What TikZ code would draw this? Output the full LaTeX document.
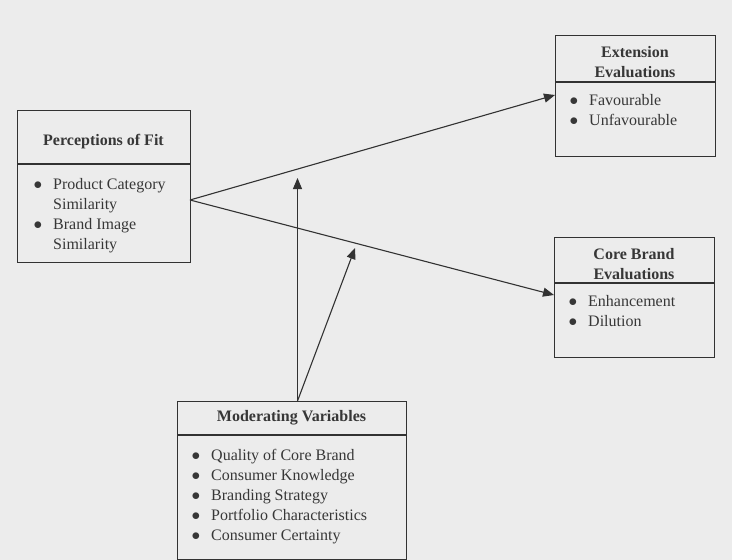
\documentclass[tikz,border=0pt]{standalone}
\usepackage{fontspec}
\setmainfont{Liberation Serif}
\usetikzlibrary{arrows.meta,calc}
\definecolor{bg}{RGB}{236,236,236}
\definecolor{ink}{RGB}{50,50,50}
\definecolor{txt}{RGB}{55,55,55}
\newcommand{\blist}[1]{\begin{tabular}{@{}p{18pt}@{}l@{}}#1\end{tabular}}
\newcommand{\bul}{\hspace*{-1.5pt}$\bullet$}
\begin{document}
\begin{tikzpicture}[x=1pt,y=-1pt,
  box/.style={draw=ink,line width=1.3pt,fill=bg,inner sep=0pt,anchor=north west},
  divider/.style={draw=ink,line width=1.2pt},
  title/.style={text=txt,font=\fontsize{16}{20}\selectfont\bfseries,align=center,inner sep=0pt},
  items/.style={text=txt,font=\fontsize{16}{20}\selectfont,anchor=north west,inner sep=0pt},
  conn/.style={draw=ink,line width=1.1pt,-{Triangle[length=11pt,width=9pt]}}]
\fill[bg] (0,0) rectangle (732,560);
\useasboundingbox (0,0) rectangle (732,560);

% boxes
\node[box,minimum width=173pt,minimum height=152pt] (pof) at (17,110) {};
\node[box,minimum width=160pt,minimum height=121pt] (ext) at (555,35) {};
\node[box,minimum width=160pt,minimum height=120pt] (core) at (554,237) {};
\node[box,minimum width=229pt,minimum height=158pt] (mod) at (177,401) {};

% dividers
\draw[divider] ($(pof.north west)+(0,54)$) -- ($(pof.north east)+(0,54)$);
\draw[divider] ($(ext.north west)+(0,47)$) -- ($(ext.north east)+(0,47)$);
\draw[divider] ($(core.north west)+(0,46)$) -- ($(core.north east)+(0,46)$);
\draw[divider] ($(mod.north west)+(0,34)$) -- ($(mod.north east)+(0,34)$);

% titles
\node[title] (poft) at (103.5,142) {Perceptions of Fit};
\node[title] (extt) at (635,62) {Extension\\Evaluations};
\node[title] (coret) at (634,264) {Core Brand\\Evaluations};
\node[title] (modt) at (291.5,418) {Moderating Variables};

% lists
\node[items] (pofl) at (35,175.5) {\blist{\bul & Product Category\\ & Similarity\\ \bul & Brand Image\\ & Similarity}};
\node[items] (extl) at (571,91.5) {\blist{\bul & Favourable\\ \bul & Unfavourable}};
\node[items] (corel) at (570,292.5) {\blist{\bul & Enhancement\\ \bul & Dilution}};
\node[items] (modl) at (193,446.5) {\blist{\bul & Quality of Core Brand\\ \bul & Consumer Knowledge\\ \bul & Branding Strategy\\ \bul & Portfolio Characteristics\\ \bul & Consumer Certainty}};

% connector end points
\coordinate (pofout) at (190,200);
\coordinate (exttip) at (555,95);
\coordinate (coretip) at (554,295);
\coordinate (modtop) at (297.5,401);
\coordinate (vtip) at (297.5,178);
\coordinate (dtip) at (355,248);

\draw[conn] (pofout) -- (exttip);
\draw[conn] (pofout) -- (coretip);
\draw[conn] (modtop) -- (vtip);
\draw[conn] (modtop) -- (dtip);
\end{tikzpicture}
\end{document}
